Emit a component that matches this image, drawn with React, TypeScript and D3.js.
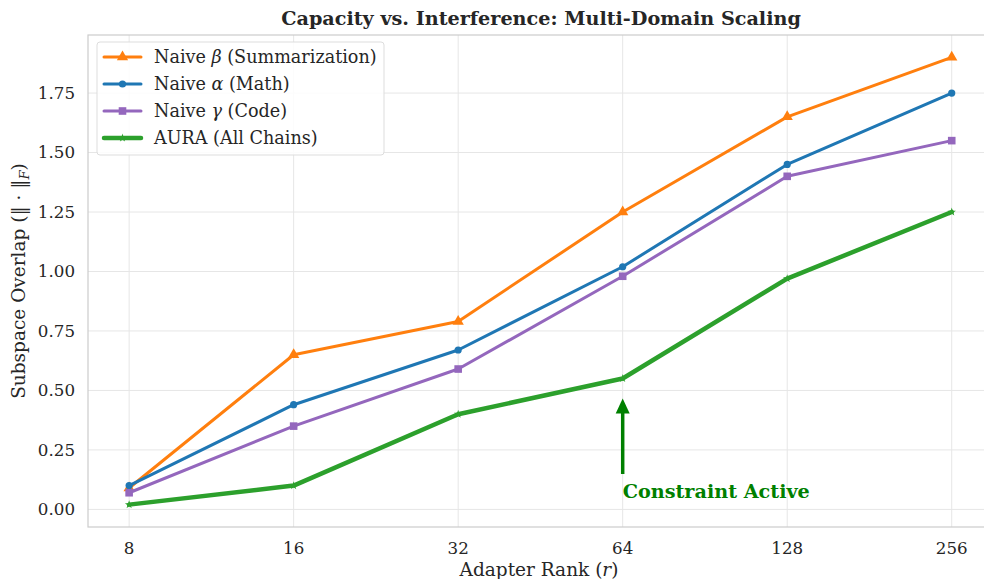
import * as d3 from "d3";
import React from "react";

// data
const ranks = [8, 16, 32, 64, 128, 256];
const naiveBeta = [0.09, 0.65, 0.79, 1.25, 1.65, 1.9];
const naiveAlpha = [0.1, 0.44, 0.67, 1.02, 1.45, 1.75];
const naiveGamma = [0.07, 0.35, 0.59, 0.98, 1.4, 1.55];
const aura = [0.02, 0.1, 0.4, 0.55, 0.97, 1.25];
const yTicks = [0, 0.25, 0.5, 0.75, 1.0, 1.25, 1.5, 1.75];

const series = [
  { name: "beta", label: "Summarization", values: naiveBeta, color: "#ff7f0e", marker: "triangle", width: 3 },
  { name: "alpha", label: "Math", values: naiveAlpha, color: "#1f77b4", marker: "circle", width: 3 },
  { name: "gamma", label: "Code", values: naiveGamma, color: "#9467bd", marker: "square", width: 3 },
  { name: "aura", label: "AURA (All Chains)", values: aura, color: "#2ca02c", marker: "star", width: 4.5 },
];

const greek = { beta: "β", alpha: "α", gamma: "γ" };

const W = 984, H = 579;
const margin = { left: 88, right: -18, top: 35, bottom: 52 };
const font = "'DejaVu Serif', serif";

const Marker = ({ type, x, y, color }) => {
  if (type === "circle") return <circle cx={x} cy={y} r={3.6} fill={color} />;
  if (type === "square") return <rect x={x - 3.8} y={y - 3.8} width={7.6} height={7.6} fill={color} />;
  const sym = type === "triangle"
    ? d3.symbol().type(d3.symbolTriangle).size(55)
    : d3.symbol().type(d3.symbolStar).size(22);
  return <path d={sym()} transform={`translate(${x},${y})`} fill={color} />;
};

export default function App() {
  const innerW = W - margin.left - margin.right;
  const innerH = H - margin.top - margin.bottom;
  const allVals = series.flatMap(s => s.values);
  const [ymin, ymax] = d3.extent(allVals);
  const ypad = (ymax - ymin) * 0.05;

  const x = d3.scaleLog().base(2).domain([8, 256])
    .range([margin.left + innerW * 0.045, margin.left + innerW * 0.045 + innerW * 0.9]);
  const y = d3.scaleLinear().domain([ymin - ypad, ymax + ypad])
    .range([margin.top + innerH, margin.top]);

  const line = d3.line().x(d => x(d[0])).y(d => y(d[1]));
  const plotRight = margin.left + innerW;
  const bottom = margin.top + innerH;

  return (
    <svg width={W} height={H} style={{ position: "absolute", left: 0, top: 0 }} fontFamily={font}>
      <rect width={W} height={H} fill="#fff" />
      {/* grid */}
      {yTicks.map(t => (
        <line key={"gy" + t} x1={margin.left} x2={plotRight} y1={y(t)} y2={y(t)} stroke="#e6e6e6" strokeWidth={1} />
      ))}
      {ranks.map(r => (
        <line key={"gx" + r} x1={x(r)} x2={x(r)} y1={margin.top} y2={bottom} stroke="#e6e6e6" strokeWidth={1} />
      ))}
      {/* spines */}
      <rect x={margin.left} y={margin.top} width={innerW} height={innerH} fill="none" stroke="#cccccc" strokeWidth={1.2} />

      {/* ticks */}
      {yTicks.map(t => (
        <text key={"ty" + t} x={margin.left - 13} y={y(t)} dy="0.35em" textAnchor="end" fontSize={16.7} fill="#262626">
          {d3.format(".2f")(t)}
        </text>
      ))}
      {ranks.map(r => (
        <text key={"tx" + r} x={x(r)} y={554} textAnchor="middle" fontSize={16.7} fill="#262626">{r}</text>
      ))}

      {/* lines */}
      {series.map(s => (
        <g key={s.name}>
          <path d={line(ranks.map((r, i) => [r, s.values[i]]))} fill="none" stroke={s.color}
            strokeWidth={s.width} strokeLinejoin="round" strokeLinecap="round" />
          {ranks.map((r, i) => (
            <Marker key={r} type={s.marker} x={x(r)} y={y(s.values[i])} color={s.color} />
          ))}
        </g>
      ))}

      {/* annotation */}
      <line x1={x(64)} x2={x(64)} y1={474} y2={410} stroke="#008000" strokeWidth={3.5} />
      <path d={`M${x(64)},${y(aura[3]) + 20} l-7,15 l14,0 z`} fill="#008000" />
      <text x={x(64)} y={498} fontSize={19.2} fontWeight="bold" fill="#008000">Constraint Active</text>

      {/* legend */}
      <g transform="translate(97,42)">
        <rect x={0} y={0} width={287} height={113} rx={3} fill="#fff" fillOpacity={0.85} stroke="#dddddd" />
        {series.map((s, i) => (
          <g key={s.name} transform={`translate(0,${15 + i * 27})`}>
            <line x1={7} x2={44} y1={0} y2={0} stroke={s.color} strokeWidth={s.width} strokeLinecap="round" />
            <Marker type={s.marker} x={25.5} y={0} color={s.color} />
            <text x={57} y={0} dy="0.35em" fontSize={17.6} fill="#262626">
              {s.name === "aura" ? s.label : (
                <>Naive <tspan fontStyle="italic">{greek[s.name]}</tspan> ({s.label})</>
              )}
            </text>
          </g>
        ))}
      </g>

      {/* axis labels and title */}
      <text x={(margin.left + plotRight) / 2 - 4} y={25} textAnchor="middle" fontSize={19.2} fontWeight="bold" fill="#262626">
        Capacity vs. Interference: Multi-Domain Scaling
      </text>
      <text x={(margin.left + plotRight) / 2 - 6} y={576} textAnchor="middle" fontSize={18.5} fill="#262626">
        Adapter Rank (<tspan fontStyle="italic">r</tspan>)
      </text>
      <text transform={`translate(25,${(margin.top + bottom) / 2}) rotate(-90)`} textAnchor="middle" fontSize={18.5} fill="#262626">
        Subspace Overlap (‖ · ‖<tspan fontSize={13} dy={4} fontStyle="italic">F</tspan><tspan dy={-4}>)</tspan>
      </text>
    </svg>
  );
}
